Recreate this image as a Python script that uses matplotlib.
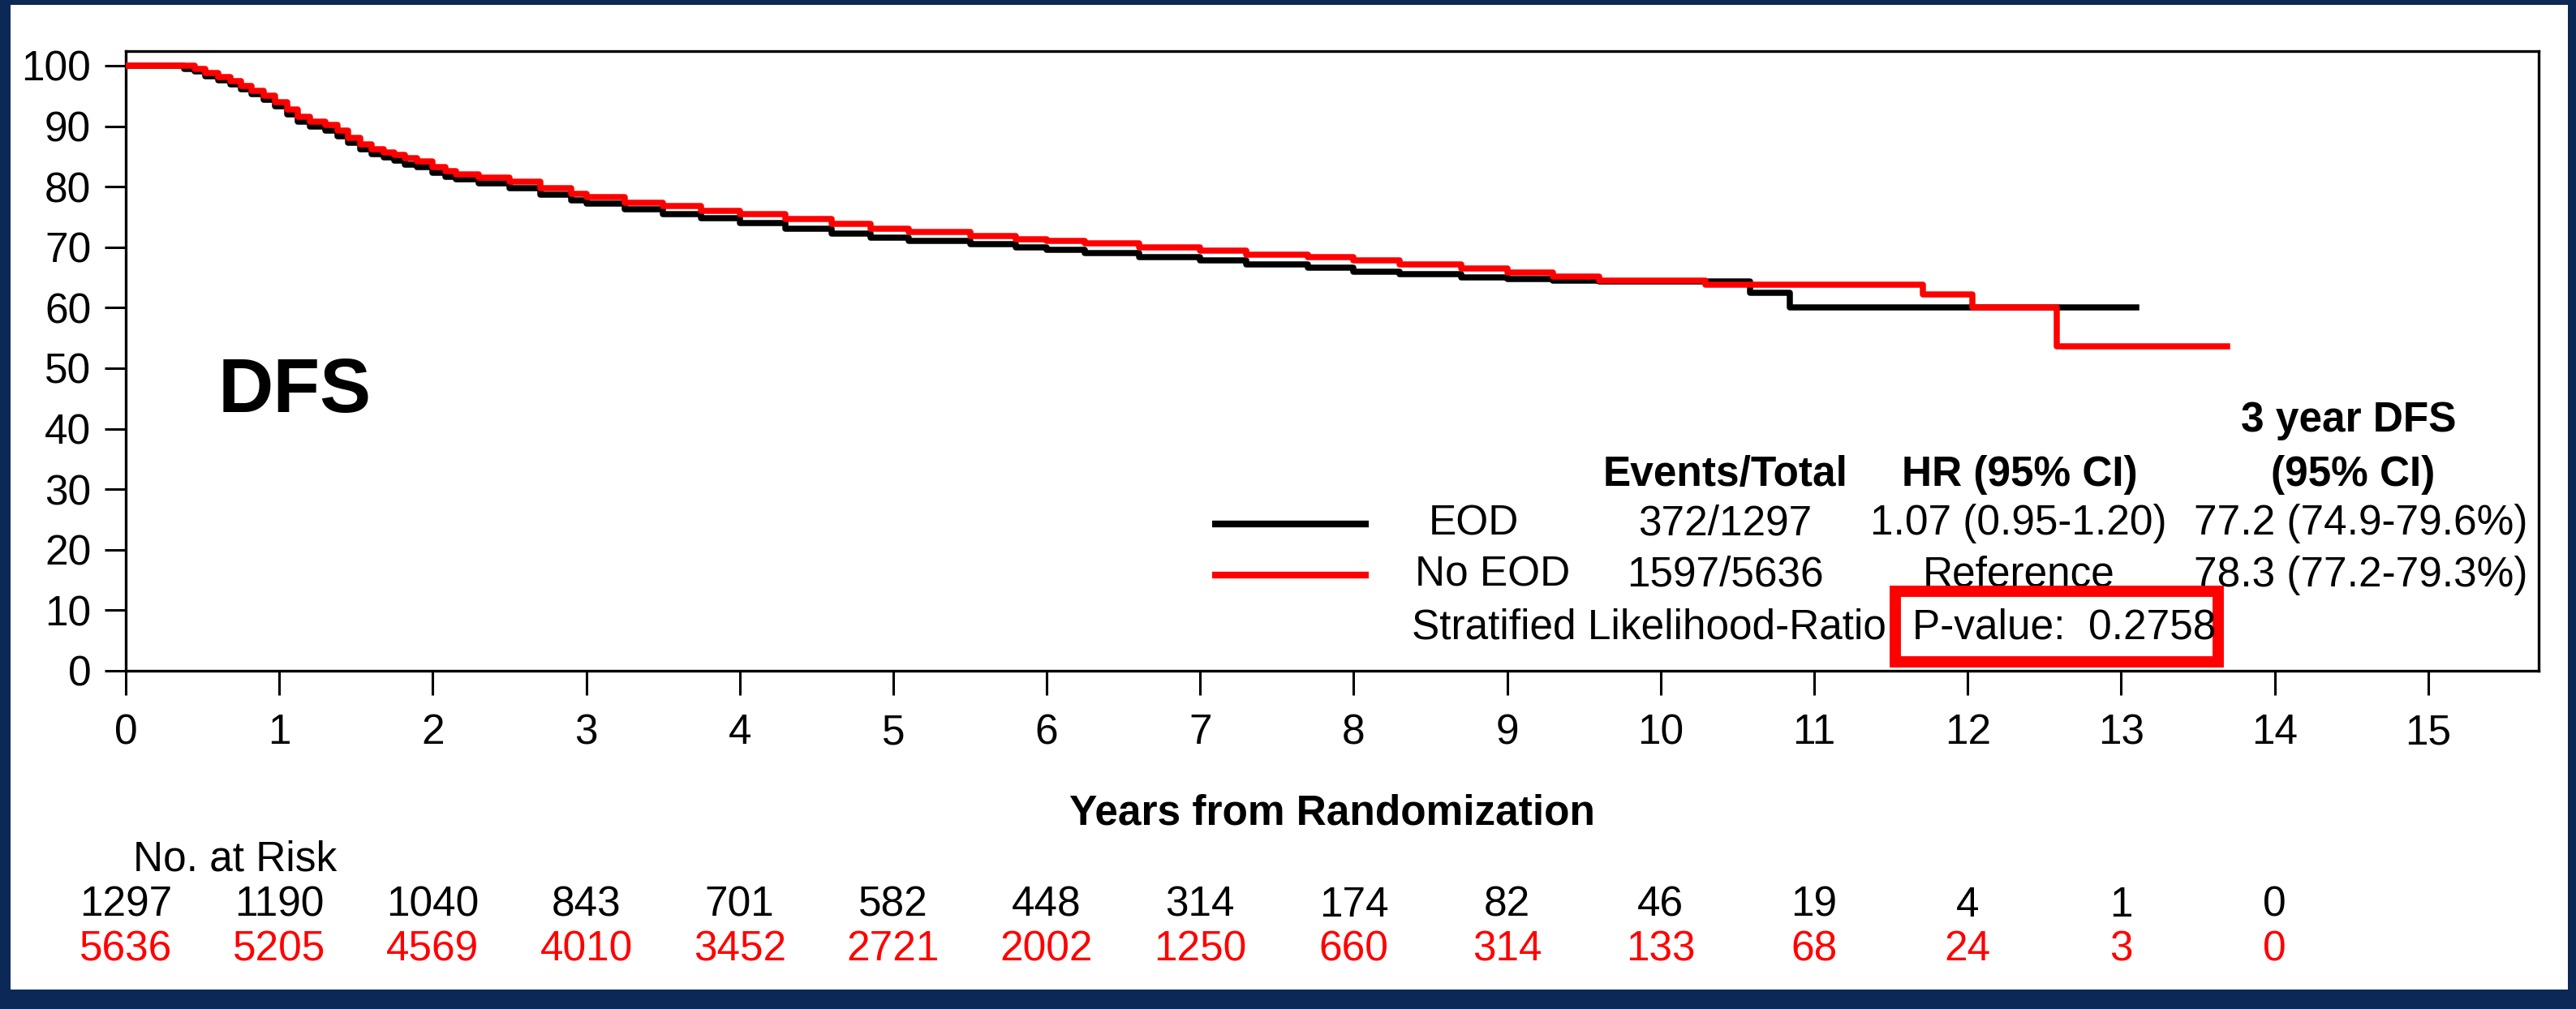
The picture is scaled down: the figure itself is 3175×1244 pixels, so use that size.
import matplotlib
matplotlib.use("Agg")
import matplotlib.pyplot as plt
from matplotlib.patches import Rectangle

plt.rcParams['font.family'] = ['Liberation Sans', 'DejaVu Sans']

# ---------------- data ----------------
eod_t = [0, 0.38, 0.45, 0.52, 0.6, 0.68, 0.75, 0.82, 0.9, 0.97, 1.05, 1.12, 1.2, 1.3, 1.38,
         1.45, 1.53, 1.6, 1.68, 1.75, 1.82, 1.9, 2.0, 2.08, 2.15, 2.3, 2.5, 2.7, 2.9, 3.0,
         3.25, 3.5, 3.75, 4.0, 4.3, 4.6, 4.85, 5.1, 5.5, 5.8, 6.0, 6.25, 6.6, 7.0, 7.3,
         7.7, 8.0, 8.3, 8.7, 9.0, 9.3, 9.6, 10.58, 10.84, 13.1]
eod_s = [100, 99.5, 99.0, 98.3, 97.6, 96.9, 96.1, 95.3, 94.4, 93.3, 92.0, 90.8, 90.0, 89.3,
         88.3, 87.2, 86.2, 85.4, 84.9, 84.3, 83.7, 83.2, 82.3, 81.6, 81.2, 80.6, 79.8, 78.7,
         77.8, 77.2, 76.2, 75.5, 74.8, 74.0, 73.0, 72.3, 71.6, 71.0, 70.5, 70.0, 69.6, 69.0,
         68.4, 67.8, 67.2, 66.6, 66.0, 65.6, 65.0, 64.7, 64.5, 64.4, 62.5, 60.0, 60.0]

noeod_t = [0, 0.45, 0.52, 0.6, 0.68, 0.75, 0.82, 0.9, 0.97, 1.05, 1.12, 1.2, 1.3, 1.38, 1.45,
           1.53, 1.6, 1.68, 1.75, 1.82, 1.9, 2.0, 2.08, 2.15, 2.3, 2.5, 2.7, 2.9, 3.0, 3.25,
           3.5, 3.75, 4.0, 4.3, 4.6, 4.85, 5.1, 5.5, 5.8, 6.0, 6.25, 6.6, 7.0, 7.3, 7.7,
           8.0, 8.3, 8.7, 9.0, 9.3, 9.6, 10.29, 11.71, 12.03, 12.58, 13.69]
noeod_s = [100, 99.5, 98.8, 98.1, 97.4, 96.6, 95.8, 95.0, 94.0, 92.8, 91.6, 90.8, 90.2, 89.2,
           88.0, 87.0, 86.2, 85.7, 85.2, 84.7, 84.2, 83.2, 82.5, 82.0, 81.5, 80.8, 79.8, 78.8,
           78.3, 77.4, 76.8, 76.0, 75.4, 74.6, 73.8, 73.1, 72.5, 71.8, 71.3, 71.0, 70.7, 70.0,
           69.4, 68.8, 68.3, 67.8, 67.2, 66.5, 65.8, 65.2, 64.5, 63.8, 62.2, 60.0, 53.6, 53.6]

risk_years = list(range(0, 15))
risk_eod = [1297, 1190, 1040, 843, 701, 582, 448, 314, 174, 82, 46, 19, 4, 1, 0]
risk_noeod = [5636, 5205, 4569, 4010, 3452, 2721, 2002, 1250, 660, 314, 133, 68, 24, 3, 0]

x_ticks = list(range(0, 16))
y_ticks = list(range(0, 101, 10))

groups = ["EOD", "No EOD"]
events_total = ["372/1297", "1597/5636"]
hr_ci = ["1.07 (0.95-1.20)", "Reference"]
dfs3 = ["77.2 (74.9-79.6%)", "78.3 (77.2-79.3%)"]
p_text = "P-value:  0.2758"

RED = "#ff0000"
NAVY = "#0b2857"
FS = 18.5

# ---------------- figure ----------------
W, H, DPI = 3175, 1244, 200
fig = plt.figure(figsize=(W / DPI, H / DPI), dpi=DPI, facecolor=NAVY)
# white inner panel
bg = Rectangle((13 / W, 24 / H), 1 - 13 / W - 10 / W, 1 - 24 / H - 6 / H,
               transform=fig.transFigure, facecolor="white", edgecolor="none", zorder=-10)
fig.patches.append(bg)

L, R, T, B = 155, 3129, 63, 827
ax = fig.add_axes([L / W, 1 - B / H, (R - L) / W, (B - T) / H])
ax.set_zorder(1)
ax.set_facecolor("white")

ax.plot(eod_t, eod_s, drawstyle="steps-post", color="black", lw=2.7, zorder=3)
ax.plot(noeod_t, noeod_s, drawstyle="steps-post", color=RED, lw=2.7, zorder=4)

ax.set_xlim(0, 15.72)
ax.set_ylim(0, 102.4)
ax.set_xticks(x_ticks)
ax.set_yticks(y_ticks)
ax.tick_params(axis="x", direction="out", length=10.8, width=1.1, pad=8, labelsize=FS)
ax.tick_params(axis="y", direction="out", length=9.4, width=1.1, pad=6, labelsize=FS)
for s in ax.spines.values():
    s.set_linewidth(1.2)

ax.set_xlabel("Years from Randomization", fontsize=FS, fontweight="bold", va="center")
ax.xaxis.set_label_coords(0.5, (B - 1003) / (B - T))

# DFS label
ax.text(0.60, 46.1, "DFS", fontsize=34, fontweight="bold", ha="left", va="center")

# legend table
ax.text(14.48, 41.4, "3 year DFS", fontsize=FS, fontweight="bold", ha="center", va="center")
hy = 32.4
ax.text(10.42, hy, "Events/Total", fontsize=FS, fontweight="bold", ha="center", va="center")
ax.text(12.34, hy, "HR (95% CI)", fontsize=FS, fontweight="bold", ha="center", va="center")
ax.text(14.51, hy, "(95% CI)", fontsize=FS, fontweight="bold", ha="center", va="center")

row_y = [24.3, 15.8]
row_x = [8.49, 8.40]
colors = ["black", RED]
for i in range(2):
    ax.plot([7.08, 8.10], [row_y[i], row_y[i]], color=colors[i], lw=3.0,
            solid_capstyle="butt", zorder=5)
    ax.text(row_x[i], row_y[i], groups[i], fontsize=FS, ha="left", va="center")
    ax.text(10.42, row_y[i], events_total[i], fontsize=FS, ha="center", va="center")
    ax.text(12.33, row_y[i], hr_ci[i], fontsize=FS, ha="center", va="center")
    ax.text(15.65, row_y[i], dfs3[i], fontsize=FS, ha="right", va="center")

ax.text(8.38, 7.1, "Stratified Likelihood-Ratio", fontsize=FS, ha="left", va="center", zorder=5)
ax.add_patch(Rectangle((11.53, 1.47), 13.63 - 11.53, 13.1 - 1.47, facecolor="white",
                       edgecolor=RED, lw=5, zorder=6))
ax.text(11.64, 7.1, p_text, fontsize=FS, ha="left", va="center", zorder=7)

# number at risk
tr = ax.get_xaxis_transform()
ax.text(0.05, (B - 1060) / (B - T), "No. at Risk", transform=tr, fontsize=FS,
        ha="left", va="center", clip_on=False)
for x, a, b in zip(risk_years, risk_eod, risk_noeod):
    ax.text(x, (B - 1116) / (B - T), str(a), transform=tr, fontsize=FS, ha="center",
            va="center", color="black", clip_on=False)
    ax.text(x, (B - 1171) / (B - T), str(b), transform=tr, fontsize=FS, ha="center",
            va="center", color=RED, clip_on=False)

fig.savefig("out.png", dpi=DPI, facecolor=NAVY)
